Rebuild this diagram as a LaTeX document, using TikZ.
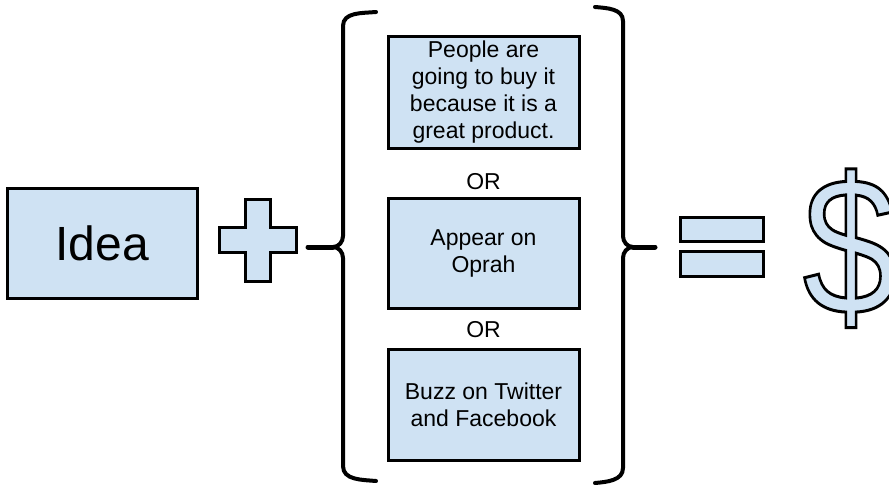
\documentclass[tikz,border=0pt]{standalone}
\usepackage{fontspec}
\setmainfont{Liberation Sans}
\definecolor{boxblue}{HTML}{CFE2F3}
% outlined glyph: fill in light blue, stroke in black
\newcommand{\outlinedglyph}[1]{{\color{boxblue}%
  \special{pdf:literal direct 2 Tr 3 w 0 G}#1\special{pdf:literal direct 0 Tr}}}
\begin{document}
\begin{tikzpicture}[x=1pt,y=-1pt,
  bluebox/.style={draw=black,fill=boxblue,line width=3pt},
  optbox/.style={bluebox,minimum width=191pt,minimum height=111pt,inner sep=0pt,
    align=center,font=\fontsize{23}{27}\selectfont},
  ortext/.style={font=\fontsize{23}{27}\selectfont,inner sep=0pt},
  bracestroke/.style={draw=black,line width=4pt,line cap=round,line join=round}]
\useasboundingbox (0,0) rectangle (889,487);

% Idea
\node[bluebox,minimum width=190pt,minimum height=110pt,inner sep=0pt,
  font=\fontsize{48}{50}\selectfont] (idea) at (102,243) {Idea};

% plus sign
\draw[bluebox] (245,199) -- (270,199) -- (270,227) -- (296,227) -- (296,252)
  -- (270,252) -- (270,281) -- (245,281) -- (245,252) -- (219,252)
  -- (219,227) -- (245,227) -- cycle;

% left brace
\draw[bracestroke] (376,12) to[out=185,in=90] (343,26) -- (343,236)
  to[out=270,in=0] (333,247) to[out=0,in=90] (343,258) -- (343,466)
  to[out=270,in=175] (376,481);
\draw[bracestroke,line width=5pt] (333,247) -- (308,247);

% right brace
\draw[bracestroke] (595,7) to[out=-5,in=90] (623,21) -- (623,236)
  to[out=270,in=180] (633,247) to[out=180,in=90] (623,258) -- (623,468)
  to[out=270,in=5] (595,483);
\draw[bracestroke,line width=5pt] (633,247) -- (655,247);

% options
\node[optbox] (opt1) at (483.5,92.5) {People are\\going to buy it\\because it is a\\great product.};
\node[ortext] (or1) at (483.5,182) {OR};
\node[optbox,minimum height=110pt] (opt2) at (483.5,253) {Appear on\\Oprah};
\node[ortext] (or2) at (483.5,330) {OR};
\node[optbox] (opt3) at (483.5,404.5) {Buzz on Twitter\\and Facebook};

% equals sign
\draw[bluebox] (680,217) rectangle (763,241);
\draw[bluebox] (680,251) rectangle (763,276);

% dollar sign, a little narrower than the font's own
\node[anchor=base west,inner sep=0pt,font=\fontsize{196}{196}\selectfont] (dollar) at (802.5,314)
  {\scalebox{0.87}[1]{\outlinedglyph{\$}}};
\end{tikzpicture}
\end{document}
